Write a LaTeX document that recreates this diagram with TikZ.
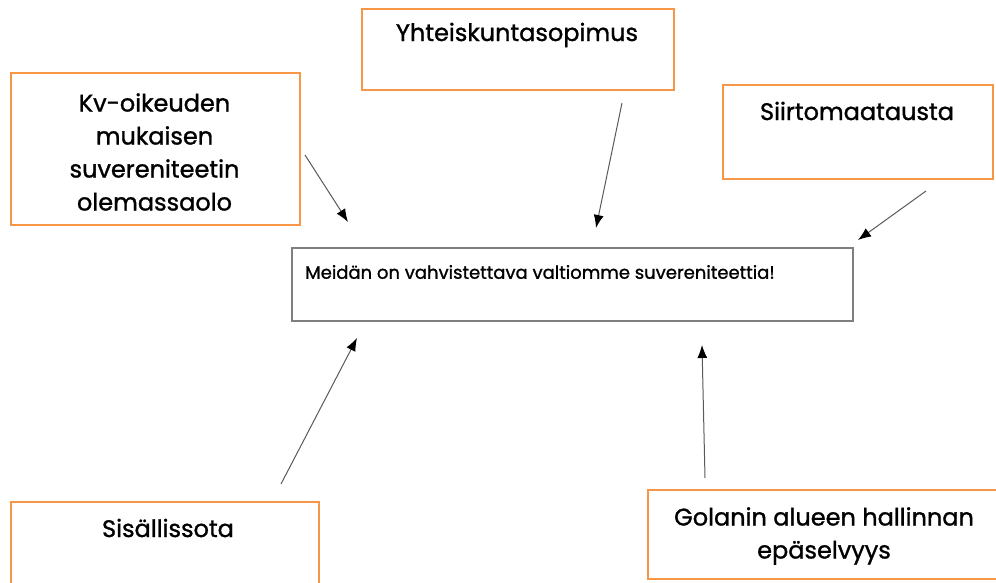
\documentclass[tikz,border=0pt]{standalone}
\usepackage{fontspec}
\setmainfont{Poppins}[FakeBold=1.2]
\usetikzlibrary{arrows.meta}
\definecolor{orng}{HTML}{F79646}
\definecolor{boxgray}{HTML}{7F7F7F}
\definecolor{arrgray}{HTML}{595959}
\begin{document}
\begin{tikzpicture}[x=1pt,y=-1pt,
  obox/.style={draw=orng,line width=1.7pt,inner sep=0pt,anchor=north west},
  gbox/.style={draw=boxgray,line width=1.5pt,inner sep=0pt,anchor=north west},
  lbl/.style={inner sep=0pt,align=center,font=\fontsize{24}{33}\selectfont},
  slbl/.style={inner sep=0pt,anchor=west,font=\fontsize{18}{20}\selectfont},
  conn/.style={draw=arrgray,line width=1pt,-{Latex[length=13pt,width=10pt,black]}}]
\useasboundingbox (0,0) rectangle (996,583);
% boxes
\node[obox,minimum width=289pt,minimum height=152pt] (kv) at (10,72) {};
\node[obox,minimum width=312pt,minimum height=81pt] (yh) at (361,8) {};
\node[obox,minimum width=270pt,minimum height=94pt] (si) at (722,84) {};
\node[gbox,minimum width=561pt,minimum height=73pt] (me) at (291,247) {};
\node[obox,minimum width=308pt,minimum height=90pt] (ss) at (10,501) {};
\node[obox,minimum width=360pt,minimum height=89pt] (go) at (647,489) {};
% texts
\node[lbl] (kvt) at (154.5,152) {Kv-oikeuden\\mukaisen\\suvereniteetin\\olemassaolo};
\node[lbl] (yht) at (517,35) {Yhteiskuntasopimus};
\node[lbl] (sit) at (857,111) {Siirtomaatausta};
\node[slbl] (met) at (305,272) {Meidän on vahvistettava valtiomme suvereniteettia!};
\node[lbl] (sst) at (168,528) {Sisällissota};
\node[lbl] (got) at (824,536) {Golanin alueen hallinnan\\epäselvyys};
% connector ends
\coordinate (a1) at (305,155); \coordinate (b1) at (348,222);
\coordinate (a2) at (622,103); \coordinate (b2) at (596,228);
\coordinate (a3) at (926,191); \coordinate (b3) at (858,240);
\coordinate (a4) at (281,484); \coordinate (b4) at (357,338);
\coordinate (a5) at (705,478); \coordinate (b5) at (702,345);
\draw[conn] (a1) -- (b1);
\draw[conn] (a2) -- (b2);
\draw[conn] (a3) -- (b3);
\draw[conn] (a4) -- (b4);
\draw[conn] (a5) -- (b5);
\end{tikzpicture}
\end{document}
